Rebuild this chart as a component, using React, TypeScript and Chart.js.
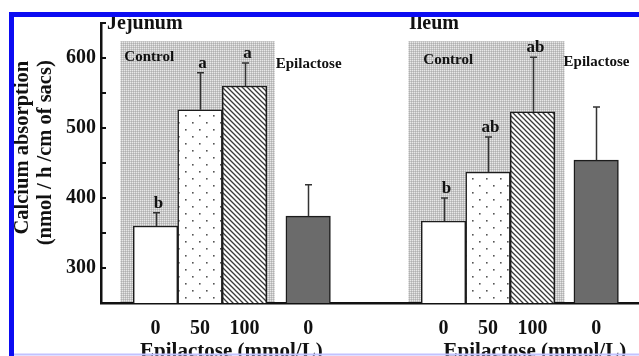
import React, { useEffect, useRef } from "react";
import { Chart, registerables } from "chart.js";

Chart.register(...registerables);

// ---------- data ----------
const panelNames = ["Jejunum", "Ileum"];
const doseLabels = ["0", "50", "100", "0"];
const groupLabels = ["Control", "Epilactose"];
const jejunumMeans = [360, 526, 560, 374];
const jejunumUpper = [379, 579, 593, 419];
const ileumMeans = [367, 437, 523, 454];
const ileumUpper = [400, 487, 601, 530];
const jejunumLetters = ["b", "a", "a", ""];
const ileumLetters = ["b", "ab", "ab", ""];
const xTitle = "Epilactose (mmol/L)";
const yTitle = ["Calcium absorption", "(nmol / h /cm of sacs)"];
const yMin = 250;
const yMax = 650;
const yStep = 50;

// ---------- layout (x in bar-slot units) ----------
const SLOT = [0, 1, 2, 3.43];
const PANEL_START = [1.225, 7.697];
const X_MAX = 12.09;
const BG_PAD_L = [0.29, 0.29];
const BG_PAD_R = [0.18, 0.22];
const BG_TOP = 624;
const CONTROL_DX = [4, 15];
const CONTROL_Y = [596, 592];
const EPI_DX = [1, -1];
const EPI_Y = [586, 588];
const TITLE_X = [0.135, 6.92];
const XTITLE_X = [2.93, 9.75];
const FONT = "'Liberation Serif', 'DejaVu Serif', serif";

export default function App() {
  const ref = useRef<HTMLCanvasElement | null>(null);

  useEffect(() => {
    const canvas = ref.current;
    if (!canvas) return;

    const makePattern = (w: number, h: number, draw: (g: CanvasRenderingContext2D) => void) => {
      const c = document.createElement("canvas");
      c.width = w;
      c.height = h;
      const g = c.getContext("2d")!;
      draw(g);
      return g.createPattern(c, "repeat")!;
    };

    const grayPattern = makePattern(2, 2, (g) => {
      g.fillStyle = "#c6c6c6";
      g.fillRect(0, 0, 2, 2);
      g.fillStyle = "#e8e8e8";
      g.fillRect(0, 0, 1, 1);
      g.fillStyle = "#b0b0b0";
      g.fillRect(1, 1, 1, 1);
    });
    const dotPattern = makePattern(14, 14, (g) => {
      g.fillStyle = "#ffffff";
      g.fillRect(0, 0, 14, 14);
      g.fillStyle = "#555555";
      g.fillRect(3, 3, 1.6, 1.6);
      g.fillRect(10, 10, 1.6, 1.6);
    });
    const hatchPattern = makePattern(5, 5, (g) => {
      g.fillStyle = "#ffffff";
      g.fillRect(0, 0, 5, 5);
      g.strokeStyle = "#3a3a3a";
      g.lineWidth = 1.3;
      g.beginPath();
      g.moveTo(-1, -1);
      g.lineTo(6, 6);
      g.moveTo(-1, 4);
      g.lineTo(1, 6);
      g.moveTo(4, -1);
      g.lineTo(6, 1);
      g.stroke();
    });
    const fills = ["#ffffff", dotPattern, hatchPattern, "#6b6b6b"];

    const means = [jejunumMeans, ileumMeans];
    const uppers = [jejunumUpper, ileumUpper];
    const letters = [jejunumLetters, ileumLetters];

    const points: { x: number; y: number }[] = [];
    const bg: any[] = [];
    const tickPos: number[] = [];
    const tickText: string[] = [];
    panelNames.forEach((_, p) => {
      SLOT.forEach((s, i) => {
        points.push({ x: PANEL_START[p] + s, y: means[p][i] });
        bg.push(fills[i]);
        tickPos.push(PANEL_START[p] + s);
        tickText.push(doseLabels[i]);
      });
    });

    const backgroundPlugin = {
      id: "panelBackground",
      beforeDraw(chart: any) {
        const { ctx, chartArea, scales } = chart;
        const x = scales.x;
        const y = scales.y;
        ctx.save();
        panelNames.forEach((name, p) => {
          const left = x.getPixelForValue(PANEL_START[p] - 0.5 - BG_PAD_L[p]);
          const right = x.getPixelForValue(PANEL_START[p] + 2.5 + BG_PAD_R[p]);
          const top = y.getPixelForValue(BG_TOP);
          ctx.fillStyle = grayPattern;
          ctx.fillRect(left, top, right - left, chartArea.bottom - top);
          ctx.fillStyle = "#111";
          ctx.textAlign = "left";
          ctx.textBaseline = "alphabetic";
          ctx.font = `bold 15px ${FONT}`;
          ctx.fillText(groupLabels[0], left + CONTROL_DX[p], y.getPixelForValue(CONTROL_Y[p]));
          ctx.fillText(groupLabels[1], right + EPI_DX[p], y.getPixelForValue(EPI_Y[p]));
          ctx.font = `bold 20px ${FONT}`;
          ctx.fillText(name, x.getPixelForValue(TITLE_X[p]), chartArea.top + 6);
        });
        ctx.restore();
      },
    };

    const errorPlugin = {
      id: "errorBars",
      afterDatasetsDraw(chart: any) {
        const { ctx, scales } = chart;
        const x = scales.x;
        const y = scales.y;
        ctx.save();
        panelNames.forEach((_, p) => {
          SLOT.forEach((s, i) => {
            const cx = Math.round(x.getPixelForValue(PANEL_START[p] + s)) + 0.5;
            const y0 = y.getPixelForValue(means[p][i]);
            const y1 = y.getPixelForValue(uppers[p][i]);
            ctx.strokeStyle = "#333";
            ctx.lineWidth = 1.5;
            ctx.beginPath();
            ctx.moveTo(cx, y0);
            ctx.lineTo(cx, y1);
            ctx.moveTo(cx - 3.5, y1);
            ctx.lineTo(cx + 3.5, y1);
            ctx.stroke();
            if (letters[p][i]) {
              ctx.fillStyle = "#111";
              ctx.font = `bold 17px ${FONT}`;
              ctx.textAlign = "center";
              ctx.textBaseline = "alphabetic";
              ctx.fillText(letters[p][i], cx + 2, y1 - 5);
            }
          });
        });
        ctx.restore();
      },
    };

    const overlayPlugin = {
      id: "overlay",
      afterDraw(chart: any) {
        const { ctx, chartArea, scales } = chart;
        const x = scales.x;
        const y = scales.y;
        ctx.save();
        // inward y ticks
        ctx.strokeStyle = "#111";
        ctx.lineWidth = 2;
        y.ticks.forEach((t: any) => {
          if (t.value <= yMin) return;
          const py = Math.round(y.getPixelForValue(t.value));
          ctx.beginPath();
          ctx.moveTo(chartArea.left, py);
          ctx.lineTo(chartArea.left + 5, py);
          ctx.stroke();
        });
        // x titles per panel
        ctx.fillStyle = "#111";
        ctx.font = `bold 21px ${FONT}`;
        ctx.textAlign = "center";
        ctx.textBaseline = "alphabetic";
        XTITLE_X.forEach((v) => {
          ctx.fillText(xTitle, x.getPixelForValue(v), chartArea.bottom + 54);
        });
        // frame of the figure crop
        ctx.fillStyle = "#0c0cf2";
        ctx.fillRect(9, 12, 630, 5);
        ctx.fillRect(9, 12, 5, 344);
        ctx.fillStyle = "#c2c2ff";
        ctx.fillRect(14, 353.5, 625, 2);
        ctx.restore();
      },
    };

    const chart = new Chart(canvas, {
      type: "bar",
      data: {
        datasets: [
          {
            data: points as any,
            backgroundColor: bg as any,
            borderColor: "#1c1c1c",
            borderWidth: 1.5,
            barPercentage: 1,
            categoryPercentage: 1,
          },
        ],
      },
      options: {
        responsive: false,
        animation: false,
        devicePixelRatio: 1,
        layout: { padding: { top: 23, left: 0, right: 0, bottom: 0 } },
        plugins: { legend: { display: false }, tooltip: { enabled: false } },
        scales: {
          x: {
            type: "linear",
            min: 0,
            max: X_MAX,
            offset: false,
            grid: { display: false, drawTicks: false },
            border: { display: true, color: "#111", width: 2.5 },
            afterBuildTicks: (scale: any) => {
              scale.ticks = tickPos.map((v) => ({ value: v }));
            },
            afterFit: (scale: any) => {
              scale.height = 53;
            },
            ticks: {
              autoSkip: false,
              maxRotation: 0,
              padding: 14,
              color: "#111",
              font: { family: FONT, size: 20, weight: "bold" },
              callback: (_v: any, i: number) => tickText[i],
            },
          },
          y: {
            type: "linear",
            min: yMin,
            max: yMax,
            grid: { display: false, drawTicks: false },
            border: { display: true, color: "#111", width: 2.5 },
            afterFit: (scale: any) => {
              scale.width = 101;
            },
            ticks: {
              stepSize: yStep,
              padding: 5,
              color: "#111",
              font: { family: FONT, size: 20, weight: "bold" },
              callback: (v: any) => (v % 100 === 0 && v > yMin && v < yMax ? String(v) : ""),
            },
            title: {
              display: true,
              text: ["      " + yTitle[0], "    " + yTitle[1]],
              color: "#111",
              font: { family: FONT, size: 20.5, weight: "bold", lineHeight: 1.146 },
              padding: { top: 10.7, bottom: 0 },
            },
          },
        },
      } as any,
      plugins: [backgroundPlugin, errorPlugin, overlayPlugin],
    });

    return () => chart.destroy();
  }, []);

  return (
    <div style={{ position: "absolute", left: 0, top: 0, width: 639, height: 356, background: "#fff" }}>
      <canvas ref={ref} width={639} height={356} style={{ display: "block" }} />
    </div>
  );
}
